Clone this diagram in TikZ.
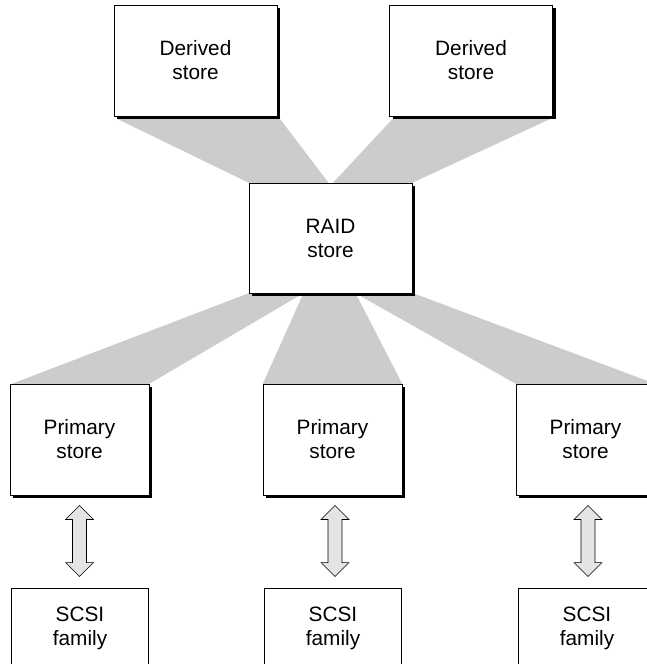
\documentclass[tikz,border=0pt]{standalone}
\usepackage{fontspec}
\setmainfont{Liberation Sans}
\usetikzlibrary{calc,shadows}

\definecolor{fangray}{HTML}{CCCCCC}
\definecolor{arrowgray}{HTML}{E4E4E4}

% double-headed block arrow between two named coordinates
\newcommand{\dblarrow}[2]{%
  \draw[blockarrow] (#1) -- ++(14,14) -- ++(-7,0) -- ($(#2)+(7,-14)$)
    -- ++(7,0) -- (#2) -- ++(-14,-14) -- ++(7,0) -- ($(#1)+(-7,14)$)
    -- ++(-7,0) -- cycle;}

\begin{document}
\begin{tikzpicture}[x=1pt,y=-1pt,
  store/.style={draw=black, line width=0.9pt, fill=white, align=center,
    inner sep=0pt, font=\fontsize{20.8}{24}\selectfont,
    drop shadow={shadow xshift=3pt, shadow yshift=-3pt, fill=black, opacity=1}},
  bigstore/.style={store, minimum width=163pt, minimum height=111pt},
  primstore/.style={store, minimum width=139pt, minimum height=111pt},
  family/.style={draw=black, line width=0.9pt, fill=white, align=center,
    inner sep=0pt, font=\fontsize{20.8}{24}\selectfont,
    minimum width=137pt, minimum height=80pt},
  fan/.style={fill=fangray, draw=none},
  blockarrow/.style={fill=arrowgray, draw=black, line width=0.6pt, line join=miter}]

\clip (0,0) rectangle (647,664);
\fill[white] (0,0) rectangle (647,664);

% node placement (boxes are drawn after the fans, see below)
\path
  (195.5,60.5) coordinate (d1c)
  (471,60.5)   coordinate (d2c)
  (330.5,238)  coordinate (rc)
  (79.5,439.5) coordinate (p1c)
  (332.5,439.5) coordinate (p2c)
  (585.5,439.5) coordinate (p3c)
  (80,628)  coordinate (s1c)
  (333,628) coordinate (s2c)
  (587,628) coordinate (s3c);

% invisible frames to compute the fan corners
\node[minimum width=163pt, minimum height=111pt, inner sep=0pt] (d1f) at (d1c) {};
\node[minimum width=163pt, minimum height=111pt, inner sep=0pt] (d2f) at (d2c) {};
\node[minimum width=163pt, minimum height=110pt, inner sep=0pt] (rf) at (rc) {};
\node[minimum width=139pt, minimum height=111pt, inner sep=0pt] (p1f) at (p1c) {};
\node[minimum width=139pt, minimum height=111pt, inner sep=0pt] (p2f) at (p2c) {};
\node[minimum width=139pt, minimum height=111pt, inner sep=0pt] (p3f) at (p3c) {};

% grey fans
\fill[fan] ($(d1f.south west)+(4,3)$) -- ($(d1f.south east)+(3,3)$)
  -- ($(rf.north)+(-2,0)$) -- (rf.north west) -- cycle;
\fill[fan] ($(d2f.south west)+(3,3)$) -- ($(d2f.south east)+(-3,3)$)
  -- (rf.north east) -- ($(rf.north)+(2.5,0)$) -- cycle;
\fill[fan] (rf.south west) -- ($(rf.south)+(-27,0)$)
  -- (p1f.north east) -- ($(p1f.north west)+(2,0)$) -- cycle;
\fill[fan] ($(rf.south)+(-27,0)$) -- ($(rf.south)+(25,0)$)
  -- (p2f.north east) -- (p2f.north west) -- cycle;
\fill[fan] ($(rf.south)+(25,0)$) -- ($(rf.south east)+(1,0)$)
  -- (p3f.north east) -- (p3f.north west) -- cycle;

% stores
\node[bigstore] (d1) at (d1c) {Derived\\store};
\node[bigstore] (d2) at (d2c) {Derived\\store};
\node[bigstore, minimum height=110pt] (raid) at (rc) {RAID\\store};
\node[primstore] (p1) at (p1c) {Primary\\store};
\node[primstore] (p2) at (p2c) {Primary\\store};
\node[primstore] (p3) at (p3c) {Primary\\store};
\node[family] (s1) at (s1c) {SCSI\\family};
\node[family] (s2) at (s2c) {SCSI\\family};
\node[family] (s3) at (s3c) {SCSI\\family};

% two-way links between primary stores and SCSI families
\coordinate (a1t) at ($(p1.south)+(0,10)$);
\coordinate (a1b) at ($(s1.north)+(-0.5,-11)$);
\coordinate (a2t) at ($(p2.south)+(2.5,10)$);
\coordinate (a2b) at ($(s2.north)+(2,-11)$);
\coordinate (a3t) at ($(p3.south)+(2.5,10)$);
\coordinate (a3b) at ($(s3.north)+(1,-11)$);
\dblarrow{a1t}{a1b}
\dblarrow{a2t}{a2b}
\dblarrow{a3t}{a3b}

\end{tikzpicture}
\end{document}
